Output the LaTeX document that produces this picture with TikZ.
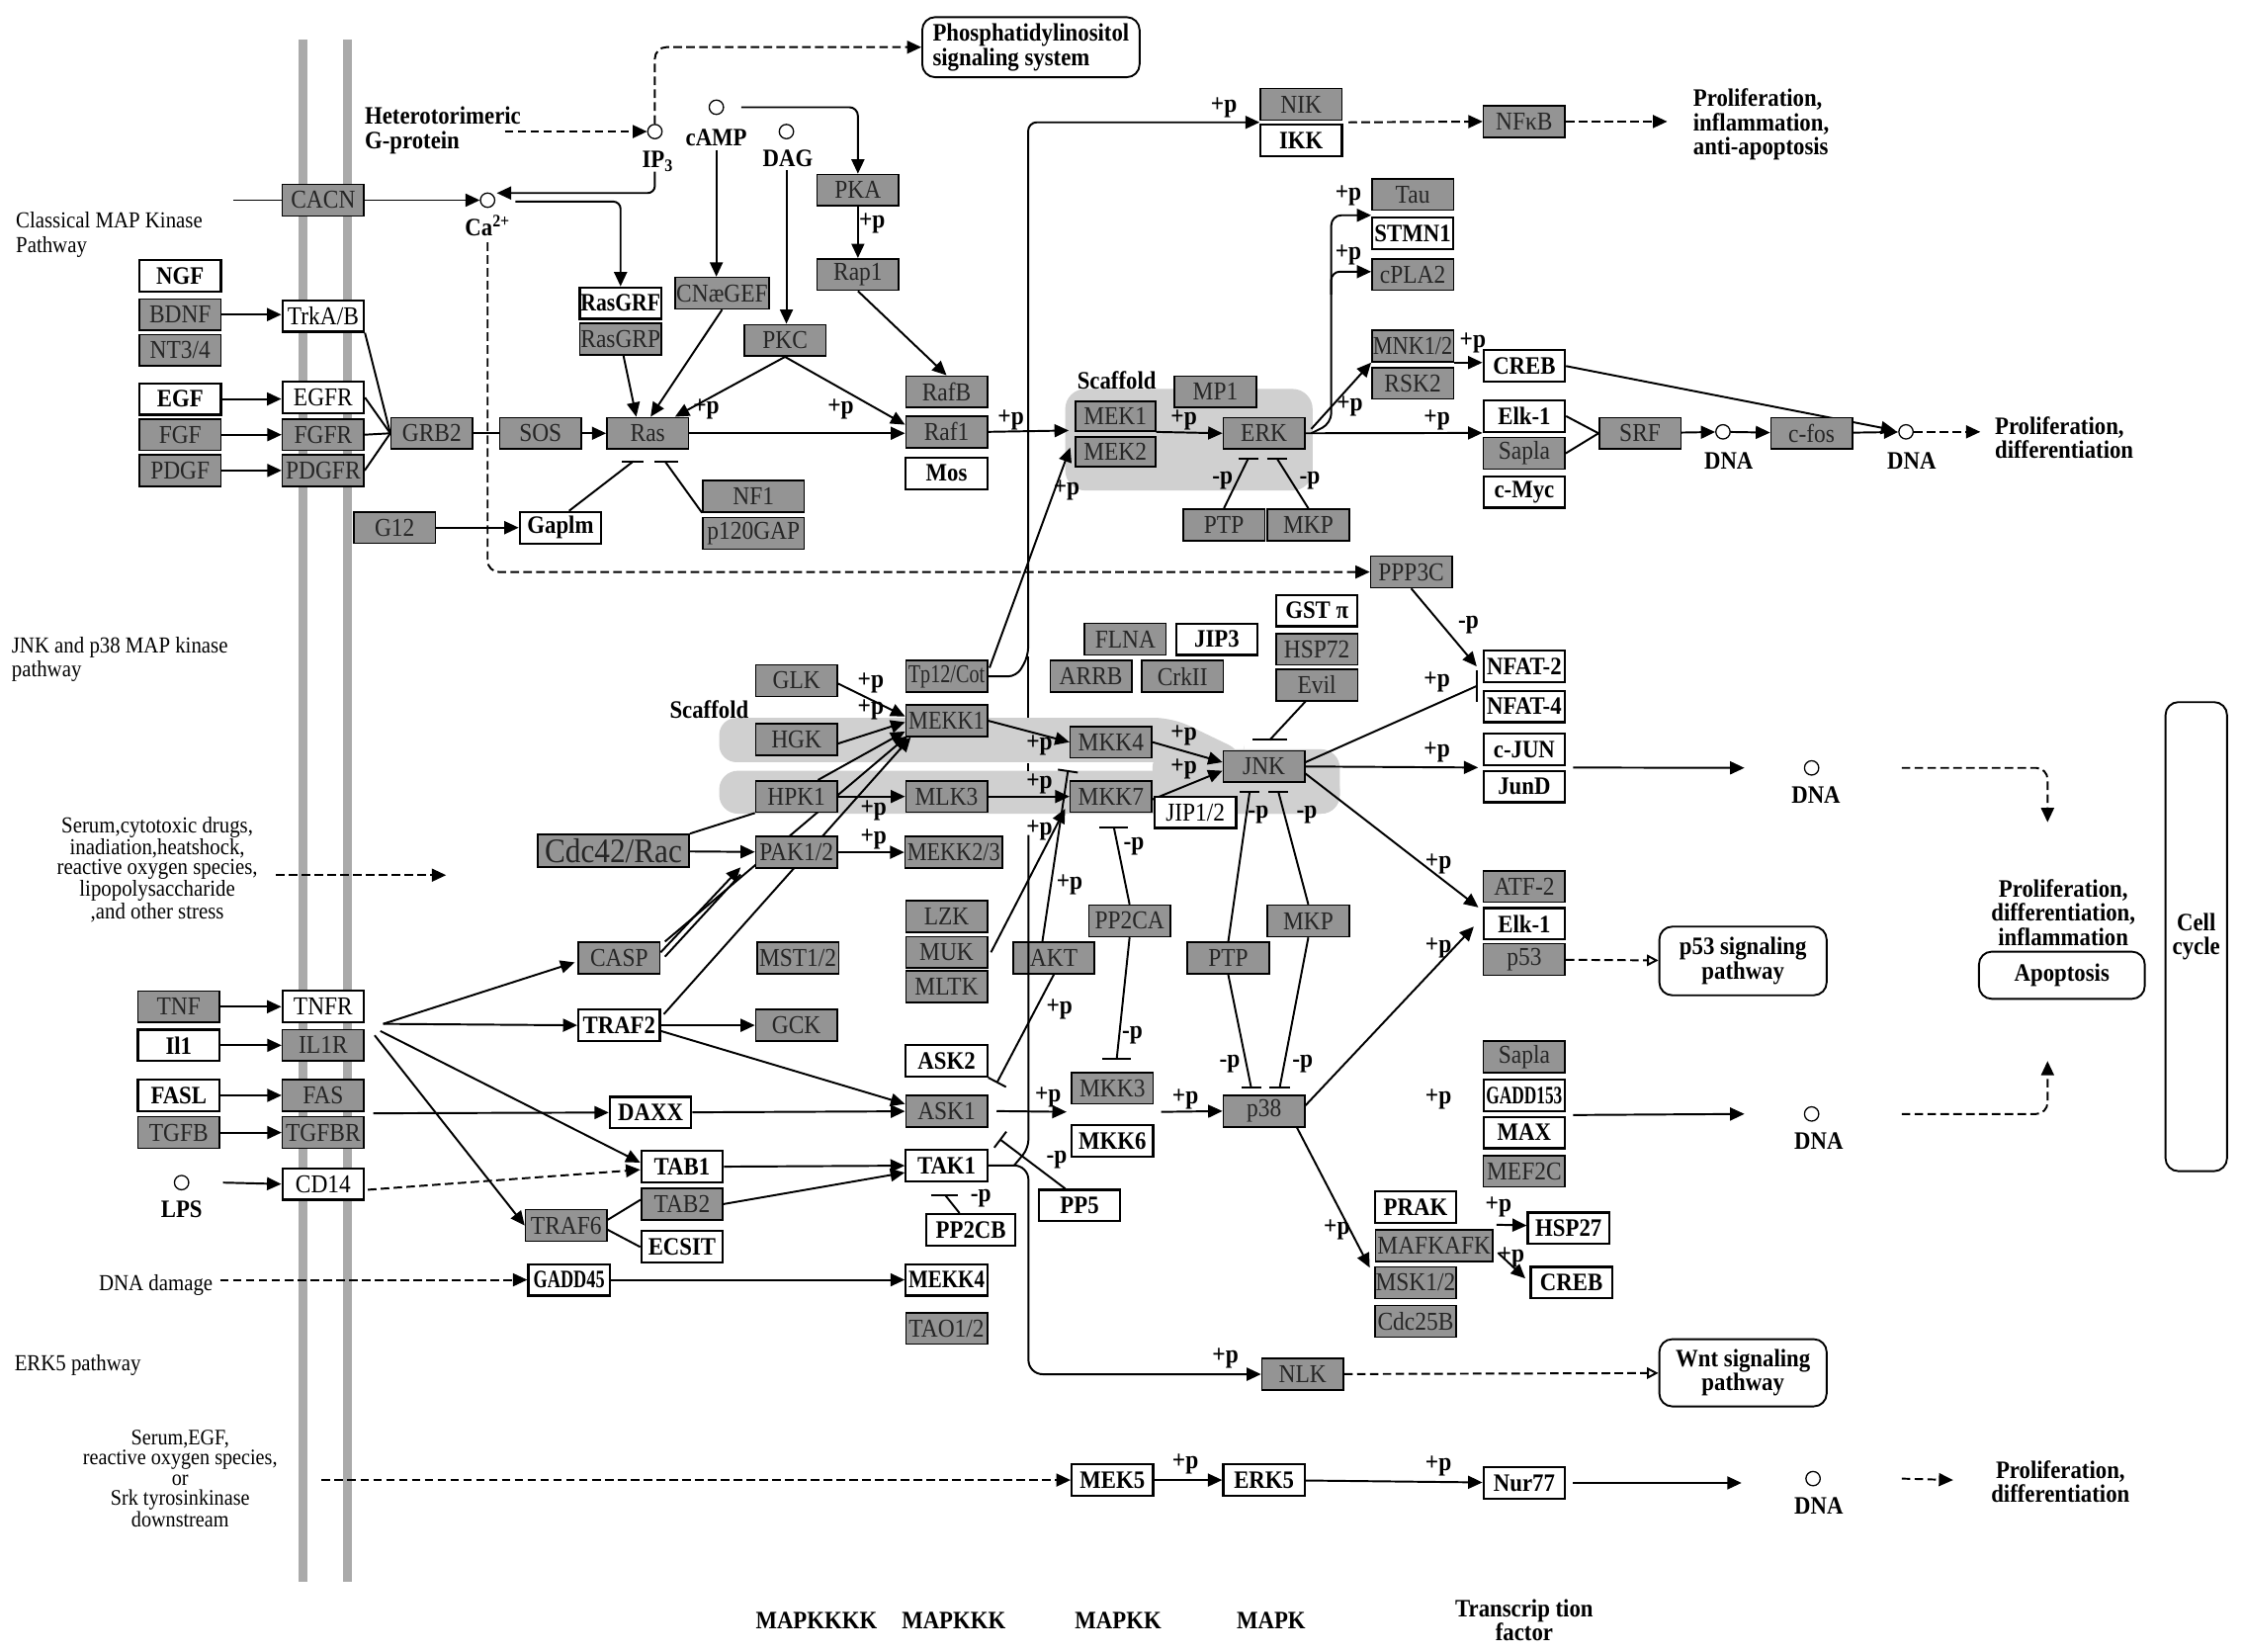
\documentclass[tikz,border=0pt]{standalone}
\usepackage{fontspec}
\usepackage{graphicx}
\setmainfont{Liberation Serif}[FakeStretch=0.9]
\usetikzlibrary{arrows.meta,calc}
\pgfdeclarelayer{back}
\pgfdeclarelayer{mid}
\pgfsetlayers{back,mid,main}
\definecolor{boxgray}{RGB}{148,148,148}
\definecolor{scaf}{RGB}{208,208,208}
\definecolor{memb}{RGB}{170,170,170}
\newcommand{\fBox}{\fontsize{18}{18}\selectfont}
\newcommand{\fBoxB}{\fontsize{17.5}{18}\selectfont}
\newcommand{\fLab}{\fontsize{17.5}{17}\selectfont}
\newcommand{\fTxt}{\fontsize{16}{17}\selectfont}
\newcommand{\fSmall}{\fontsize{16}{13.7}\selectfont}
\newcommand{\fSmallB}{\fontsize{15.5}{13.9}\selectfont}
\newcommand{\fPlus}{\fontsize{18}{16}\selectfont}
\newcommand{\sqz}[2][0.84]{\scalebox{#1}[1]{#2}}
\begin{document}
\begin{tikzpicture}[x=1pt,y=-1pt,
  gbox/.style={draw, line width=1.1pt, fill=boxgray, minimum width=57pt, minimum height=22pt, inner sep=0pt, font=\fBox, text=black!85},
  wbox/.style={draw, line width=1.5pt, fill=white, minimum width=57pt, minimum height=22pt, inner sep=0pt, font=\fBoxB\bfseries},
  wrbox/.style={wbox, font=\fBox},
  cir/.style={circle, draw, fill=white, minimum size=10pt, inner sep=0pt, line width=0.9pt},
  rbx/.style={draw, line width=1.3pt, rounded corners=9pt, fill=white, align=center, inner sep=0pt, font=\fLab\bfseries},
  txt/.style={inner sep=0pt, font=\fTxt, align=left},
  btxt/.style={inner sep=0pt, font=\fLab\bfseries, align=left},
  plab/.style={inner sep=0pt, font=\fPlus\bfseries},
  ln/.style={line width=1.35pt},
  ar/.style={ln, -{Triangle[length=10pt,width=9pt]}},
  dar/.style={ar, dash pattern=on 6pt off 3pt},
  oar/.style={ln, dash pattern=on 6pt off 3pt, -{Triangle[open,length=8pt,width=8pt]}},
  inb/.style={ln, -{Bar[width=14pt]}},
]
\useasboundingbox (0,0) rectangle (1568,1155);
\begin{pgfonlayer}{back}
\fill[white] (0,0) rectangle (1568,1155);
% membrane
\fill[memb] (209,28) rectangle (215,1106);
\fill[memb] (240,28) rectangle (246,1106);
% scaffolds
\fill[scaf, rounded corners=14pt] (745,272) rectangle (918,343);
\fill[scaf, rounded corners=13pt] (503,539) rectangle (937,569);
\fill[scaf, rounded corners=13pt] (806,524) rectangle (937,569);
\fill[scaf, rounded corners=12pt] (503,502) -- (820,502) -- (870,526) -- (870,533) -- (503,533) -- cycle;
\end{pgfonlayer}

% ---------- top ----------
\node[rbx, minimum width=152pt, minimum height=42pt, align=left] (phos) at (721,33) {Phosphatidylinositol\\signaling system};
\node[btxt, anchor=west] (hetero) at (255,91) {Heterotorimeric\\G-protein};
\node[cir] (ip3) at (458,92) {};
\node[btxt] (ip3l) at (460,113) {IP\textsubscript{3}};
\node[cir] (camp) at (501,75) {};
\node[btxt] (campl) at (501,96) {cAMP};
\node[cir] (dag) at (550,92) {};
\node[btxt] (dagl) at (551,111) {DAG};
\node[gbox] (cacn) at (226,140) {CACN};
\node[cir] (ca) at (341,140) {};
\node[btxt] (cal) at (341,158) {Ca\textsuperscript{2+}};

\node[wbox] (ngf) at (126,193) {NGF};
\node[gbox] (bdnf) at (126,220) {BDNF};
\node[gbox] (nt34) at (126,245) {NT3/4};
\node[wrbox] (trkab) at (226,221) {TrkA/B};
\node[wbox] (egf) at (126,279) {EGF};
\node[gbox] (fgf) at (126,304) {FGF};
\node[gbox] (pdgf) at (126,329) {PDGF};
\node[wrbox] (egfr) at (226,278) {EGFR};
\node[gbox] (fgfr) at (226,304) {FGFR};
\node[gbox] (pdgfr) at (226,329) {PDGFR};
\node[gbox] (grb2) at (302,303) {GRB2};
\node[gbox] (sos) at (378,303) {SOS};
\node[gbox] (ras) at (453,303) {Ras};
\node[gbox] (g12) at (276,369) {G12};
\node[wbox] (gaplm) at (392,369) {Gaplm};
\node[wbox] (rasgrf) at (434,212) {\sqz[0.95]{RasGRF}};
\node[gbox] (rasgrp) at (434,237) {RasGRP};
\node[gbox, minimum width=66pt] (cnae) at (505,205) {CNæGEF};
\node[gbox] (pkc) at (549,238) {PKC};
\node[gbox] (pka) at (600,133) {PKA};
\node[gbox] (rap1) at (600,192) {Rap1};
\node[gbox] (rafb) at (662,274) {RafB};
\node[gbox] (raf1) at (662,302) {Raf1};
\node[wbox] (mos) at (662,331) {Mos};
\node[gbox, minimum width=71pt] (nf1) at (527,347) {NF1};
\node[gbox, minimum width=71pt] (p120) at (527,373) {p120GAP};

\node[gbox, minimum width=56pt, minimum height=21pt] (mek1) at (780,291) {MEK1};
\node[gbox, minimum width=56pt, minimum height=21pt] (mek2) at (780,316) {MEK2};
\node[gbox] (mp1) at (850,274) {MP1};
\node[gbox] (erk) at (884,303) {ERK};
\node[gbox] (ptpA) at (856,367) {PTP};
\node[gbox] (mkpA) at (915,367) {MKP};
\node[gbox] (nik) at (910,73) {NIK};
\node[wbox] (ikk) at (910,98) {IKK};
\node[gbox] (nfkb) at (1066,85) {NFκB};
\node[btxt, anchor=west] (prolN) at (1184,87) {Proliferation,\\inflammation,\\anti-apoptosis};
\node[gbox] (tau) at (988,136) {Tau};
\node[wbox] (stmn1) at (988,163) {STMN1};
\node[gbox] (cpla2) at (988,192) {cPLA2};
\node[gbox] (mnk) at (988,242) {\sqz[0.95]{MNK1/2}};
\node[gbox] (rsk2) at (988,268) {RSK2};
\node[wbox] (crebA) at (1066,256) {CREB};
\node[wbox] (elkA) at (1066,291) {Elk-1};
\node[gbox] (saplaA) at (1066,317) {Sapla};
\node[wbox] (cmyc) at (1066,344) {c-Myc};
\node[gbox] (srf) at (1147,303) {SRF};
\node[cir] (dnaA) at (1205,302) {};
\node[btxt] (dnaAl) at (1209,322) {DNA};
\node[gbox] (cfos) at (1267,303) {c-fos};
\node[cir] (dnaB) at (1333,302) {};
\node[btxt] (dnaBl) at (1337,322) {DNA};
\node[btxt, anchor=west] (prolA) at (1395,306) {Proliferation,\\differentiation};
\node[gbox] (ppp3c) at (987,400) {PPP3C};

% ---------- middle ----------
\node[wbox] (gst) at (921,427) {GST π};
\node[gbox] (hsp72) at (921,454) {HSP72};
\node[gbox] (evil) at (921,479) {Evil};
\node[gbox] (flna) at (787,447) {FLNA};
\node[wbox] (jip3) at (851,447) {JIP3};
\node[gbox] (arrb) at (763,473) {ARRB};
\node[gbox] (crkii) at (827,473) {CrkII};
\node[gbox] (tpl2) at (662,473) {\sqz[0.86]{Tp12/Cot}};
\node[gbox] (glk) at (557,476) {GLK};
\node[gbox] (mekk1) at (662,504) {\sqz[0.95]{MEKK1}};
\node[gbox] (hgk) at (557,517) {HGK};
\node[gbox] (hpk1) at (557,557) {HPK1};
\node[gbox] (mlk3) at (662,557) {MLK3};
\node[gbox] (mkk4) at (777,519) {MKK4};
\node[gbox] (mkk7) at (777,557) {MKK7};
\node[gbox] (jnk) at (884,536) {JNK};
\node[wrbox] (jip12) at (836,568) {JIP1/2};
\node[btxt] (scafA) at (781,266) {Scaffold};
\node[btxt] (scafB) at (496,496) {Scaffold};
\node[wbox] (nfat2) at (1066,466) {NFAT-2};
\node[wbox] (nfat4) at (1066,494) {NFAT-4};
\node[wbox] (cjun) at (1066,524) {c-JUN};
\node[wbox] (jund) at (1066,550) {JunD};
\node[cir] (dnaC) at (1267,537) {};
\node[btxt] (dnaCl) at (1270,556) {DNA};
\node[gbox, minimum width=106pt, minimum height=23pt, font=\fontsize{24}{24}\selectfont] (cdc42) at (429,595) {Cdc42/Rac};
\node[gbox] (pak) at (557,596) {PAK1/2};
\node[gbox, minimum width=68pt] (mekk23) at (667,596) {\sqz[0.95]{MEKK2/3}};
\node[gbox] (pp2ca) at (790,644) {PP2CA};
\node[gbox] (mkpB) at (915,644) {MKP};
\node[gbox] (ptpB) at (859,670) {PTP};
\node[gbox] (lzk) at (662,641) {LZK};
\node[gbox] (muk) at (662,666) {MUK};
\node[gbox] (mltk) at (662,690) {MLTK};
\node[gbox] (mst) at (558,670) {MST1/2};
\node[gbox] (akt) at (737,670) {AKT};
\node[gbox] (casp) at (433,670) {CASP};
\node[wbox] (traf2) at (433,717) {TRAF2};
\node[gbox] (gck) at (557,717) {GCK};
\node[gbox] (atf2) at (1066,620) {ATF-2};
\node[wbox] (elkB) at (1066,646) {Elk-1};
\node[gbox] (p53) at (1066,671) {p53};
\node[rbx, minimum width=117pt, minimum height=48pt] (p53p) at (1219,672) {p53 signaling\\pathway};
\node[btxt, align=center] (prolB) at (1443,638) {Proliferation,\\differentiation,\\inflammation};
\node[rbx, minimum width=116pt, minimum height=33pt] (apop) at (1442,682) {Apoptosis};
\node[rbx, minimum width=43pt, minimum height=328pt] (cell) at (1536,655) {Cell\\cycle};

% ---------- lower ----------
\node[gbox] (tnf) at (125,704) {TNF};
\node[wbox] (il1) at (125,731) {Il1};
\node[wbox] (fasl) at (125,766) {FASL};
\node[gbox] (tgfb) at (125,792) {TGFB};
\node[wrbox] (tnfr) at (226,704) {TNFR};
\node[gbox] (il1r) at (226,731) {IL1R};
\node[gbox] (fas) at (226,766) {FAS};
\node[gbox] (tgfbr) at (226,792) {TGFBR};
\node[wbox] (ask2) at (662,742) {ASK2};
\node[gbox] (ask1) at (662,777) {ASK1};
\node[wbox] (daxx) at (455,778) {DAXX};
\node[gbox] (mkk3) at (778,761) {MKK3};
\node[wbox] (mkk6) at (778,798) {MKK6};
\node[gbox] (p38) at (884,777) {p38};
\node[gbox] (saplaB) at (1066,739) {Sapla};
\node[wbox] (gadd153) at (1066,766) {\sqz[0.76]{GADD153}};
\node[wbox] (max) at (1066,792) {MAX};
\node[gbox] (mef2c) at (1066,819) {MEF2C};
\node[cir] (dnaD) at (1267,779) {};
\node[btxt] (dnaDl) at (1272,798) {DNA};
\node[cir] (lps) at (127,827) {};
\node[btxt] (lpsl) at (127,846) {LPS};
\node[wrbox] (cd14) at (226,828) {CD14};
\node[wbox] (tab1) at (477,816) {TAB1};
\node[gbox] (tab2) at (477,842) {TAB2};
\node[wbox] (ecsit) at (477,872) {ECSIT};
\node[gbox] (traf6) at (396,857) {TRAF6};
\node[wbox] (tak1) at (662,815) {TAK1};
\node[wbox] (pp5) at (755,843) {PP5};
\node[wbox, minimum width=62pt] (pp2cb) at (679,860) {PP2CB};
\node[wbox] (prak) at (990,844) {PRAK};
\node[gbox, minimum width=82pt] (mafk) at (1003,871) {MAFKAFK};
\node[gbox] (msk) at (990,897) {MSK1/2};
\node[gbox] (cdc25) at (990,924) {Cdc25B};
\node[wbox] (hsp27) at (1097,859) {HSP27};
\node[wbox] (crebB) at (1099,897) {CREB};
\node[wbox] (gadd45) at (398,895) {\sqz[0.8]{GADD45}};
\node[wbox] (mekk4) at (662,895) {\sqz[0.92]{MEKK4}};
\node[gbox] (tao) at (662,929) {TAO1/2};
\node[gbox] (nlk) at (911,961) {NLK};
\node[rbx, minimum width=117pt, minimum height=47pt] (wnt) at (1219,960) {Wnt signaling\\pathway};
\node[wbox] (mek5) at (778,1035) {MEK5};
\node[wbox] (erk5) at (884,1035) {ERK5};
\node[wbox] (nur77) at (1066,1037) {Nur77};
\node[cir] (dnaE) at (1268,1034) {};
\node[btxt] (dnaEl) at (1272,1053) {DNA};
\node[btxt, align=center] (prolC) at (1441,1036) {Proliferation,\\differentiation};

% free texts
\node[txt, anchor=west] (classical) at (11,164) {Classical MAP Kinase\\Pathway};
\node[txt, anchor=west] (jnkpath) at (8,461) {JNK and p38 MAP kinase\\pathway};
\node[txt, align=center, font=\fSmall] (stress) at (110,608) {Serum,cytotoxic drugs,\\inadiation,heatshock,\\reactive oxygen species,\\lipopolysaccharide\\,and other stress};
\node[txt] (dnadam) at (109,899) {DNA damage};
\node[txt, anchor=west] (erk5path) at (10,955) {ERK5 pathway};
\node[txt, align=center, font=\fSmallB] (serum) at (126,1034) {Serum,EGF,\\reactive oxygen species,\\or\\Srk tyrosinkinase\\downstream};
\node[btxt] (mk4) at (571,1133) {MAPKKKK};
\node[btxt] (mk3) at (667,1133) {MAPKKK};
\node[btxt] (mk2) at (782,1133) {MAPKK};
\node[btxt] (mk1) at (889,1133) {MAPK};
\node[btxt, align=center] (tf) at (1066,1133) {Transcrip tion\\factor};

% ---------- plus / minus labels ----------
\node[plab] at (610,156) {+p};
\node[plab] at (494,286) {+p};
\node[plab] at (588,286) {+p};
\node[plab] at (707,294) {+p};
\node[plab] at (746,343) {+p};
\node[plab] at (856,75) {+p};
\node[plab] at (828,294) {+p};
\node[plab] at (855,336) {-p};
\node[plab] at (916,336) {-p};
\node[plab] at (1005,294) {+p};
\node[plab] at (943,137) {+p};
\node[plab] at (943,178) {+p};
\node[plab] at (944,284) {+p};
\node[plab] at (1030,240) {+p};
\node[plab] at (1027,437) {-p};
\node[plab] at (609,478) {+p};
\node[plab] at (609,496) {+p};
\node[plab] at (611,567) {+p};
\node[plab] at (611,587) {+p};
\node[plab] at (727,521) {+p};
\node[plab] at (727,548) {+p};
\node[plab] at (828,514) {+p};
\node[plab] at (828,538) {+p};
\node[plab] at (1005,477) {+p};
\node[plab] at (1005,526) {+p};
\node[plab] at (1006,604) {+p};
\node[plab] at (1006,663) {+p};
\node[plab] at (857,950) {+p};
\node[plab] at (727,581) {+p};
\node[plab] at (733,767) {+p};
\node[plab] at (829,769) {+p};
\node[plab] at (793,592) {-p};
\node[plab] at (792,724) {-p};
\node[plab] at (880,570) {-p};
\node[plab] at (914,570) {-p};
\node[plab] at (860,744) {-p};
\node[plab] at (911,744) {-p};
\node[plab] at (748,619) {+p};
\node[plab] at (741,706) {+p};
\node[plab] at (739,811) {-p};
\node[plab] at (686,838) {-p};
\node[plab] at (935,860) {+p};
\node[plab] at (1048,844) {+p};
\node[plab] at (1057,879) {+p};
\node[plab] at (829,1024) {+p};
\node[plab] at (1006,1025) {+p};
\node[plab] at (1006,769) {+p};

\begin{pgfonlayer}{mid}
% ---------- connectors: top ----------
\coordinate (hetE) at (353,92);
\draw[dar] (hetE) -- (ip3.west);
\draw[dar, rounded corners=8pt] (ip3.north) |- (phos.west);
\draw[ar, rounded corners=5pt] ($(ip3)+(0,28)$) |- ($(ca.east)+(1,-5)$);
\draw[ar, rounded corners=5pt] ($(ca.east)+(14,1)$) -| (rasgrf.north);
\coordinate (cacnL) at (163,140);
\draw[ln] (cacnL) -- (cacn.west);
\draw[ar] (cacn.east) -- (ca.west);
\draw[dar, rounded corners=8pt] ($(ca.south)+(0,24)$) |- (ppp3c.west);
\draw[ar, rounded corners=6pt] ($(camp.east)+(12,0)$) -| (pka.north);
\draw[ar] ($(camp)+(0,30)$) -- (camp |- cnae.north);
\draw[ar] ($(dag)+(0,27)$) -- (dag |- pkc.north);
\draw[ar] (pka) -- (rap1);
\draw[ar] (rap1.south) -- (rafb.north);
\draw[ar] (pkc.south) -- ($(ras.north east)+(-10,0)$);
\draw[ar] (pkc.south) -- ($(raf1.west)+(0,-5)$);
\draw[ar] (cnae.south) -- ($(ras.north)+(2,0)$);
\draw[ar] ($(rasgrp.south)+(2,0)$) -- ($(ras.north)+(-8,0)$);
\draw[ar] (sos) -- (ras);
\draw[ln] (grb2) -- (sos);
\draw[ln] (trkab.south east) -- (grb2.west);
\draw[ln] (egfr.east) -- (grb2.west);
\draw[ln] (fgfr.east) -- (grb2.west);
\draw[ln] (pdgfr.east) -- (grb2.west);
\draw[ar] (bdnf.east) -- (bdnf.east -| trkab.west);
\draw[ar] (egf.east) -- (egf.east -| egfr.west);
\draw[ar] (fgf) -- (fgfr);
\draw[ar] (pdgf) -- (pdgfr);
\draw[ar] (g12) -- (gaplm);
\draw[ar] (ras.east) -- (ras.east -| raf1.west);
\coordinate (rb1) at ($(ras.south)+(-10,8)$);
\coordinate (rb2) at ($(ras.south)+(12,8)$);
\draw[ln] ($(gaplm.north)+(6,0)$) -- (rb1);
\draw[ln] (nf1.south west) -- (rb2);
\draw[ln] ($(rb1)+(-8,0)$) -- ($(rb1)+(7,0)$);
\draw[ln] ($(rb2)+(-7,0)$) -- ($(rb2)+(9,0)$);
\draw[ar] (raf1.east) -- ($(mek1.south west)+(-4,-1)$);
\draw[ar] ($(tpl2.east)+(1,-6)$) -- ($(mek2.west)+(-3,-3)$);
\draw[dar] ($(nik.south east)+(4,1)$) -- (nfkb.west);
\draw[dar] (nfkb.east) -- ($(prolN.west)+(-18,-2)$);
\draw[ar] (mek1.south east) -- (erk.west);
\coordinate (eb1) at ($(erk.south)+(-11,6)$);
\coordinate (eb2) at ($(erk.south)+(9,6)$);
\draw[ln] (ptpA.north) -- (eb1);
\draw[ln] (mkpA.north) -- (eb2);
\draw[ln] ($(eb1)+(-7,0)$) -- ($(eb1)+(7,0)$);
\draw[ln] ($(eb2)+(-7,0)$) -- ($(eb2)+(7,0)$);
\draw[ar] (erk.east) -- (elkA.south west);
\draw[ar, rounded corners=7pt] ($(erk.east)+(4,0)$) -- ++(14,-7) |- ($(tau.south west)+(0,3)$);
\coordinate (tb) at (931,206);
\draw[ar, rounded corners=6pt] (tb) |- ($(cpla2.west)+(0,-2)$);
\draw[ar] ($(erk.east)+(4,-3)$) -- (mnk.south west);
\draw[ar] (mnk.south east) -- (mnk.south east -| crebA.west);
\draw[ar] (crebA.east) -- ($(dnaB.west)+(-2,-1)$);
\draw[ln] (elkA.east) -- (srf.west);
\draw[ln] (saplaA.east) -- (srf.west);
\draw[ar] (srf) -- (dnaA);
\draw[ar] (dnaA) -- (cfos);
\draw[ar] (cfos) -- (dnaB);
\draw[dar] (dnaB) -- ($(prolA.west)+(-10,-4)$);

% ---------- connectors: middle ----------
\draw[ar] (ppp3c.south) -- ($(nfat2.west)+(-4,0)$);
\coordinate (evb) at ($(jnk.north)+(4,-7)$);
\draw[ln] ($(evil.south)+(-8,0)$) -- (evb);
\draw[ln] ($(evb)+(-12,0)$) -- ($(evb)+(12,0)$);
\draw[ar] ($(glk.east)+(0,2)$) -- ($(mekk1.west)+(0,-3)$);
\draw[ar] ($(hgk.east)+(0,3)$) -- ($(mekk1.west)+(0,1)$);
\draw[ar] ($(hpk1.north east)+(-14,0)$) -- ($(mekk1.south west)+(0,-4)$);
\draw[ar] ($(casp.north east)+(3,0)$) -- ($(mekk1.south west)+(2,-1)$);
\draw[ar] ($(traf2.north east)+(2,4)$) -- ($(mekk1.south west)+(4,0)$);
\draw[ar] (hpk1) -- (mlk3);
\draw[ar] (cdc42) -- (pak);
\draw[ln] (cdc42.north east) -- (hpk1.south west);
\draw[ar] ($(casp.east)+(0,-4)$) -- ($(pak.south west)+(-10,-1)$);
\draw[ln] ($(casp.east)+(3,-1)$) -- ($(pak.south west)+(-10,4)$);
\draw[ar] (pak) -- (mekk23);
\draw[ar] (mekk1.east) -- (mkk4.west);
\draw[ar] (mlk3) -- (mkk7);
\draw[ar] (mkk4.east) -- ($(jnk.west)+(0,-3)$);
\draw[ar] ($(mkk7.east)+(0,2)$) -- ($(jnk.west)+(0,3)$);
\coordinate (nb) at ($(nfat2.south west)+(-4,2)$);
\draw[ln] ($(jnk.east)+(0,-3)$) -- (nb);
\draw[ln] ($(nb)+(0,-11)$) -- ($(nb)+(0,11)$);
\draw[ar] (jnk.east) -- ($(cjun.south west)+(-3,1)$);
\coordinate (cjE) at (1220,537);
\draw[ar] ($(cjun.south east)+(5,1)$) -- (cjE);
\coordinate (dC) at (1432,575);
\draw[dar, rounded corners=8pt] ($(dnaC)+(63,0)$) -| (dC);
\draw[ar] ($(jnk.east)+(0,5)$) -- ($(atf2.south west)+(-3,3)$);
\draw[ar] ($(p38.east)+(0,-4)$) -- ($(elkB.west)+(-6,2)$);
\draw[oar] (p53) -- (p53p);

% ---------- connectors: lower ----------
\draw[ar] (tnf) -- (tnfr);
\draw[ar] (il1) -- (il1r);
\draw[ar] (fasl) -- (fas);
\draw[ar] (tgfb) -- (tgfbr);
\coordinate (hub) at (268,716);
\draw[ar] (hub) -- ($(casp.west)+(-2,3)$);
\draw[ar] (hub) -- (traf2.west);
\draw[ar] ($(hub)+(-2,5)$) -- ($(tab1.west)+(0,-3)$);
\draw[ar] ($(hub)+(-6,8)$) -- (traf6.west);
\draw[ar] ($(fas.south east)+(6,1)$) -- (daxx.west);
\draw[ar] (traf2) -- (gck);
\draw[ar] ($(traf2.east)+(0,4)$) -- ($(ask1.west)+(0,-5)$);
\draw[ar] (daxx) -- (ask1);
\draw[ar] ($(lps)+(29,0)$) -- (cd14.west);
\draw[dar] ($(cd14.east)+(2,4)$) -- ($(tab1.west)+(0,2)$);
\draw[ln] ($(traf6.east)+(0,-4)$) -- ($(tab2.west)+(0,-3)$);
\draw[ln] ($(traf6.east)+(0,3)$) -- (ecsit.west);
\draw[ar] (tab1) -- (tak1);
\draw[ar] (tab2.east) -- ($(tak1.west)+(0,5)$);
\draw[ar] ($(ask1.east)+(6,0)$) -- ($(mkk3.south west)+(-3,5)$);
\draw[ar] ($(mkk3.south east)+(5,5)$) -- (p38.west);
\coordinate (pb1) at ($(mkk7.south)+(2,10)$);
\draw[ln] (pp2ca.north) -- (pb1);
\draw[ln] ($(pb1)+(-10,0)$) -- ($(pb1)+(10,0)$);
\coordinate (pb2) at ($(mkk3.north)+(3,-9)$);
\draw[ln] (pp2ca.south) -- (pb2);
\draw[ln] ($(pb2)+(-10,0)$) -- ($(pb2)+(10,0)$);
\coordinate (jb1) at ($(jnk.south)+(-10,6)$);
\coordinate (jb2) at ($(jnk.south)+(10,6)$);
\draw[ln] (ptpB.north) -- (jb1);
\draw[ln] (mkpB.north) -- (jb2);
\draw[ln] ($(jb1)+(-7,0)$) -- ($(jb1)+(7,0)$);
\draw[ln] ($(jb2)+(-7,0)$) -- ($(jb2)+(7,0)$);
\coordinate (qb1) at ($(p38.north)+(-9,-5)$);
\coordinate (qb2) at ($(p38.north)+(11,-5)$);
\draw[ln] (ptpB.south) -- (qb1);
\draw[ln] (mkpB.south) -- (qb2);
\draw[ln] ($(qb1)+(-7,0)$) -- ($(qb1)+(7,0)$);
\draw[ln] ($(qb2)+(-7,0)$) -- ($(qb2)+(7,0)$);
\draw[ar] ($(muk.east)+(2,0)$) -- ($(mkk7.south west)+(-3,-3)$);
\draw[inb] ($(akt.north)+(-8,0)$) -- ($(mkk4.south west)+(-1,8)$);
\draw[inb] (akt.south) -- ($(ask1.north east)+(6,-8)$);
\draw[inb] ($(pp5.north)+(-10,0)$) -- ($(ask1.south east)+(8,8)$);
\coordinate (tb2) at ($(tak1.south)+(-1,9)$);
\draw[ln] ($(pp2cb.north)+(-8,0)$) -- (tb2);
\draw[ln] ($(tb2)+(-10,0)$) -- ($(tb2)+(9,0)$);
\draw[ar] ($(p38.south east)+(-6,0)$) -- ($(msk.north west)+(-3,1)$);
\draw[ar] ($(mafk.north east)+(2,-3)$) -- ($(hsp27.west)+(0,-2)$);
\draw[ar] ($(mafk.east)+(3,5)$) -- ($(crebB.west)+(-3,-3)$);
\draw[dar] ($(dnadam.east)+(5,-4)$) -- (gadd45.west);
\draw[ar] (gadd45) -- (mekk4);
\draw[oar] (nlk) -- (wnt);
\coordinate (srmE) at (225,1035);
\draw[dar] (srmE) -- (mek5.west);
\draw[ar] (mek5) -- (erk5);
\draw[ar] (erk5) -- (nur77);
\coordinate (nuE) at (1218,1037);
\draw[ar] ($(nur77.east)+(5,0)$) -- (nuE);
\coordinate (dE) at (1366,1035);
\draw[dar] ($(dnaE)+(62,0)$) -- (dE);
\coordinate (gdE) at (1220,779);
\draw[ar] ($(gadd153.south east)+(5,2)$) -- (gdE);
\coordinate (dD) at (1432,742);
\draw[dar, rounded corners=8pt] ($(dnaD)+(63,0)$) -| (dD);
\coordinate (stS) at (193,612);
\coordinate (stE) at (312,612);
\draw[dar] (stS) -- (stE);
\end{pgfonlayer}

% ---------- long vertical connector (drawn on top) ----------
\draw[ar, rounded corners=6pt] (tpl2.east) -- ++(20,0) -- ++(8,-14) |- ($(nik.south west)+(0,1)$);
\coordinate (vjT) at ($(tpl2.east)+(28,-14)$);
\draw[ln] (vjT) -- ($(tpl2.east)+(28,29)$);
\draw[ln] ($(tpl2.east)+(28,61)$) -- ($(tpl2.east)+(28,66)$);
\draw[ar, rounded corners=10pt] (tak1.east) -- ++(28,0) |- (nlk.west);
\draw[ln, rounded corners=6pt] ($(tak1.east)+(18,0)$) -- ++(10,-12) -- ($(tak1.east)+(28,-231)$);
\end{tikzpicture}
\end{document}
